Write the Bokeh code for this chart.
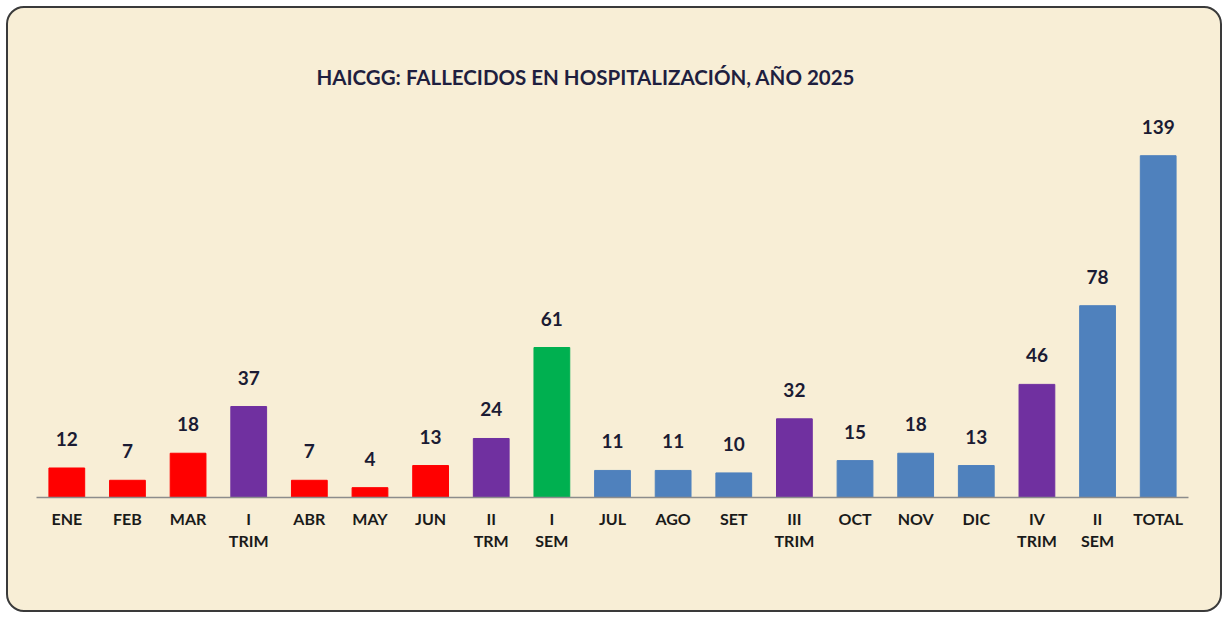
from bokeh.plotting import figure
from bokeh.models import ColumnDataSource, FactorRange
from bokeh.core.properties import value
from bokeh.embed import file_html
from bokeh.resources import INLINE

categories = ["ENE", "FEB", "MAR", "I\nTRIM", "ABR", "MAY", "JUN", "II\nTRM", "I\nSEM",
              "JUL", "AGO", "SET", "III\nTRIM", "OCT", "NOV", "DIC", "IV\nTRIM", "II\nSEM", "TOTAL"]
values = [12, 7, 18, 37, 7, 4, 13, 24, 61, 11, 11, 10, 32, 15, 18, 13, 46, 78, 139]
kinds = ["m", "m", "m", "t", "m", "m", "m", "t", "s", "m2", "m2", "m2", "t", "m2", "m2", "m2", "t", "s2", "s2"]
title_text = "HAICGG: FALLECIDOS EN HOSPITALIZACIÓN, AÑO 2025"

palette = {"m": "#FF0000", "t": "#7030A0", "s": "#00B050", "m2": "#4F81BD", "s2": "#4F81BD"}
colors = [palette[k] for k in kinds]
labels = [str(v) for v in values]

bg = "#F8EED6"
W, H = 1216, 606

src = ColumnDataSource(dict(cat=categories, val=values, color=colors, lab=labels))

p = figure(width=W, height=H, x_range=FactorRange(*categories, range_padding=0),
           y_range=(0, 158.2), output_backend="svg", toolbar_location=None,
           min_border_left=28, min_border_right=36, min_border_top=100, min_border_bottom=117)
p.styles = {"border": "2px solid #3a3a3a", "border-radius": "18px", "overflow": "hidden",
            "margin-left": "6px", "margin-top": "6px", "background-color": bg}
p.background_fill_color = None
p.border_fill_color = None
p.outline_line_color = None
p.grid.visible = False
p.yaxis.visible = False

p.title.text = title_text
p.title.align = "left"
p.title.offset = 280
p.title.standoff = 40
p.title.text_font = "Lato"
p.title.text_font_style = "bold"
p.title.text_font_size = "20.5px"
p.title.text_color = "#1F1F3F"

p.vbar(x="cat", top="val", width=0.59, color="color", source=src)
p.text(x="cat", y="val", text="lab", source=src, text_align="center", text_baseline="middle",
       y_offset=-29, text_font=value("Lato"), text_font_style="bold", text_font_size="19px",
       text_color="#1B1B33")

ax = p.xaxis[0]
ax.axis_line_color = "#8C8C8C"
ax.axis_line_width = 1.5
ax.major_tick_line_color = None
ax.minor_tick_line_color = None
ax.major_label_text_font = "Lato"
ax.major_label_text_font_style = "bold"
ax.major_label_text_font_size = "16px"
ax.major_label_text_color = "#1A1A1A"
ax.major_label_standoff = 5

open("out.html", "w").write(file_html(p, INLINE))
